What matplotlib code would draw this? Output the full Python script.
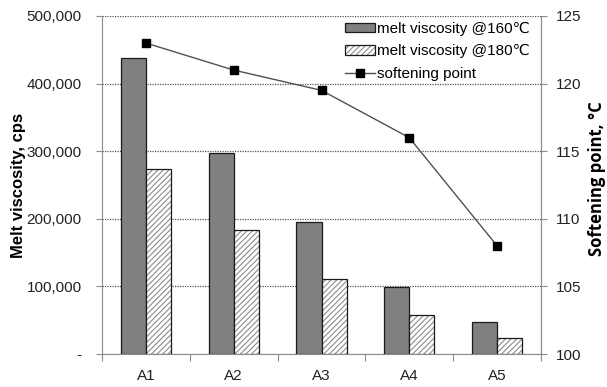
import numpy as np
import matplotlib
matplotlib.use("Agg")
import matplotlib.pyplot as plt
from matplotlib.patches import Patch
from matplotlib.lines import Line2D
from matplotlib.legend_handler import HandlerTuple
from matplotlib.ticker import FuncFormatter

plt.rcParams['font.family'] = ['Liberation Sans', 'DejaVu Sans']
plt.rcParams['hatch.linewidth'] = 0.8

categories = ["A1", "A2", "A3", "A4", "A5"]
visc_160 = [438000, 298000, 195000, 98500, 47000]
visc_180 = [273000, 183000, 111000, 57000, 23000]
softening = [123, 121, 119.5, 116, 108]

fig = plt.figure(figsize=(6.07, 3.87), dpi=100)
ax = fig.add_axes([102 / 607, 1 - 354 / 387, 439 / 607, 338 / 387])

x = np.arange(len(categories))
w = 0.285
ax.bar(x - w / 2, visc_160, w, color='#808080', edgecolor='#1a1a1a', linewidth=0.9, zorder=3)
# hatched bars: gray hatch layer, then black outline on top
ax.bar(x + w / 2, visc_180, w, color='white', edgecolor='#8c8c8c', linewidth=0,
       hatch='//////', zorder=3)
ax.bar(x + w / 2, visc_180, w, color='none', edgecolor='#1a1a1a', linewidth=0.9, zorder=3)

ax.set_xlim(-0.5, len(categories) - 0.5)
ax.set_ylim(0, 500000)
ax.set_yticks(np.arange(0, 500001, 100000))
ax.yaxis.set_major_formatter(FuncFormatter(lambda v, p: '-' if v == 0 else f'{int(v):,}'))
ax.yaxis.grid(True, linestyle=(0, (1, 1)), color='#555555', linewidth=0.9, zorder=0)

# category boundary ticks, labels centred
ax.set_xticks(np.arange(-0.5, len(categories)), minor=False)
ax.set_xticklabels([])
ax.set_xticks(x, minor=True)
ax.set_xticklabels(categories, minor=True)
ax.tick_params(axis='x', which='major', length=5, color='#8c8c8c')
ax.tick_params(axis='x', which='minor', length=0, pad=11, labelsize=11, labelcolor='#222222')
ax.tick_params(axis='y', length=4, color='#8c8c8c', pad=10.5, labelsize=11, labelcolor='#222222')

ax.spines['top'].set_visible(False)
for s in ['left', 'bottom', 'right']:
    ax.spines[s].set_color('#8c8c8c')

ax.set_ylabel("Melt viscosity, cps", fontsize=12, fontweight='bold', va='center')
ax.yaxis.set_label_coords(-0.19, 0.5)

ax2 = ax.twinx()
ax2.set_ylim(100, 125)
ax2.set_yticks(np.arange(100, 126, 5))
ax2.plot(x, softening, color='#505050', linewidth=1.0, marker='s', markersize=6,
         markerfacecolor='black', markeredgecolor='black', zorder=4)
ax2.tick_params(axis='y', length=4, color='#8c8c8c', pad=7, labelsize=11, labelcolor='#222222')
ax2.spines['top'].set_visible(False)
ax2.spines['right'].set_color('#8c8c8c')
ax2.spines['left'].set_visible(False)
ax2.spines['bottom'].set_visible(False)
ax2.set_ylabel("Softening point, °C", fontsize=12, fontweight='bold', va='center',
               family=['Open Sans', 'DejaVu Sans'])
ax2.yaxis.set_label_coords(1.127, 0.52)

handles = [
    Patch(facecolor='#808080', edgecolor='#1a1a1a', linewidth=0.9),
    (Patch(facecolor='white', edgecolor='#8c8c8c', linewidth=0, hatch='//////'),
     Patch(facecolor='none', edgecolor='#1a1a1a', linewidth=0.9)),
    Line2D([0], [0], color='#505050', linewidth=1.0, marker='s', markersize=6,
           markerfacecolor='black', markeredgecolor='black'),
]
labels = ["melt viscosity @160\u2103", "melt viscosity @180\u2103", "softening point"]
ax2.legend(handles, labels, loc='upper right', bbox_to_anchor=(0.995, 1.01), frameon=False,
           fontsize=11, handlelength=2.0, handleheight=0.6, handletextpad=0.1,
           labelspacing=0.55, borderaxespad=0.2,
           handler_map={tuple: HandlerTuple(ndivide=1, pad=0)})

fig.savefig("out.png", dpi=100)
